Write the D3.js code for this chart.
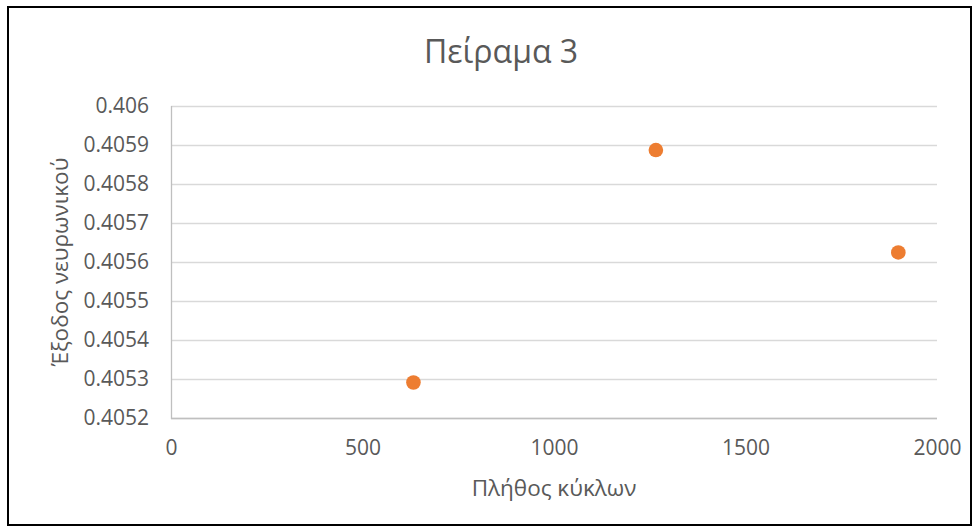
<!DOCTYPE html>
<html>
<head>
<meta charset="utf-8">
<script src="https://cdn.jsdelivr.net/npm/d3@7"></script>
<style>
  html, body { margin: 0; padding: 0; background: #fff; }
  svg { display: block; }
  text { font-family: "Open Sans", "Noto Sans", sans-serif; fill: #595959; }
</style>
</head>
<body>
<svg id="chart" width="978" height="531"></svg>
<script>
// Experiment 3: network output versus number of cycles
const cycles = [633, 1266, 1899];
const outputs = [0.405291, 0.405887, 0.4056245];
const xTicks = [0, 500, 1000, 1500, 2000];
const yTicks = [0.4052, 0.4053, 0.4054, 0.4055, 0.4056, 0.4057, 0.4058, 0.4059, 0.406];
const chartTitle = "Πείραμα 3";
const xTitle = "Πλήθος κύκλων";
const yTitle = "Έξοδος νευρωνικού";

const W = 978, H = 531;
const plot = { left: 171, right: 937, top: 106, bottom: 418 };
const font = '"Open Sans", "Noto Sans", sans-serif';

const svg = d3.select("#chart");

// outer frame
svg.append("rect")
  .attr("x", 8).attr("y", 7)
  .attr("width", W - 15).attr("height", H - 13)
  .attr("fill", "none").attr("stroke", "#000").attr("stroke-width", 2);

const x = d3.scaleLinear().domain([0, 2000]).range([plot.left, plot.right]);
const y = d3.scaleLinear().domain([0.4052, 0.406]).range([plot.bottom, plot.top]);

// horizontal gridlines
svg.append("g")
  .selectAll("line")
  .data(yTicks)
  .join("line")
  .attr("x1", plot.left).attr("x2", plot.right)
  .attr("y1", d => Math.round(y(d)) + 0.5).attr("y2", d => Math.round(y(d)) + 0.5)
  .attr("stroke", "#d9d9d9").attr("stroke-width", 1.3);

// vertical axis line
svg.append("line")
  .attr("x1", plot.left + 0.5).attr("x2", plot.left + 0.5)
  .attr("y1", plot.top).attr("y2", plot.bottom + 1)
  .attr("stroke", "#bfbfbf").attr("stroke-width", 1.3);

// bottom axis line
svg.append("line")
  .attr("x1", plot.left).attr("x2", plot.right)
  .attr("y1", plot.bottom + 0.5).attr("y2", plot.bottom + 0.5)
  .attr("stroke", "#bfbfbf").attr("stroke-width", 1.3);

// y tick labels
const yAxis = d3.axisLeft(y).tickValues(yTicks).tickSize(0).tickPadding(0)
  .tickFormat(d => String(+d.toFixed(4)));
const gy = svg.append("g").attr("transform", `translate(${plot.left - 22},0)`).call(yAxis);
gy.select(".domain").remove();
gy.selectAll("text")
  .attr("font-size", 21).attr("fill", "#595959")
  .style("font-family", font);

// x tick labels
const xAxis = d3.axisBottom(x).tickValues(xTicks).tickSize(0).tickPadding(0)
  .tickFormat(d3.format("d"));
const gx = svg.append("g").attr("transform", `translate(0,${plot.bottom + 22})`).call(xAxis);
gx.select(".domain").remove();
gx.selectAll("text")
  .attr("font-size", 21).attr("fill", "#595959")
  .style("font-family", font);

// data points
svg.append("g")
  .selectAll("circle")
  .data(cycles.map((c, i) => [c, outputs[i]]))
  .join("circle")
  .attr("cx", d => x(d[0]))
  .attr("cy", d => y(d[1]))
  .attr("r", 7.3)
  .attr("fill", "#ed7d31");

// titles
svg.append("text")
  .attr("x", 501).attr("y", 63)
  .attr("text-anchor", "middle")
  .attr("font-size", 32)
  .text(chartTitle);

svg.append("text")
  .attr("x", (plot.left + plot.right) / 2).attr("y", 496)
  .attr("text-anchor", "middle")
  .attr("font-size", 22.5)
  .text(xTitle);

svg.append("text")
  .attr("transform", `translate(68,${(plot.top + plot.bottom) / 2}) rotate(-90)`)
  .attr("text-anchor", "middle")
  .attr("font-size", 22.5)
  .text(yTitle);
</script>
</body>
</html>
